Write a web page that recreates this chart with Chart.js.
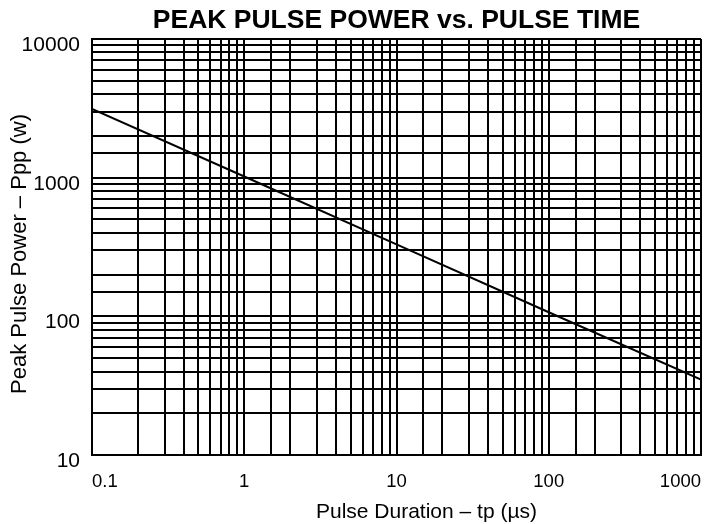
<!DOCTYPE html>
<html>
<head>
<meta charset="utf-8">
<script src="https://cdn.jsdelivr.net/npm/chart.js@4/dist/chart.umd.min.js"></script>
<style>
  html, body { margin: 0; padding: 0; background: #ffffff; }
  canvas { display: block; }
</style>
</head>
<body>
<canvas id="chart" width="719" height="524"></canvas>
<script>
// values
const pulseTimes = [0.1, 1, 10, 100, 1000]
const peakPower = [3130, 1020, 330, 107, 35]

const xTickLabels = ['0.1', '1', '10', '100', '1000']
const yTickLabels = ['10', '100', '1000', '10000']

const chartTitle = 'PEAK PULSE POWER vs. PULSE TIME'
const xTitle = 'Pulse Duration – tp (µs)'
const yTitle = 'Peak Pulse Power – Ppp (w)'

const fontFamily = 'Liberation Sans, Arial, sans-serif'
Chart.defaults.font.family = fontFamily
Chart.defaults.color = '#000000'

const isDecade = v => Math.abs(Math.log10(v) - Math.round(Math.log10(v))) < 1e-9
const findLabel = (labels, value) => labels.find(l => Math.abs(Number(l) - value) < value * 1e-6)

const gridBlack = {
  color: '#000000',
  lineWidth: 2,
  drawTicks: false
}

// axis titles sit a bit off-centre in the datasheet, so draw them by hand
const axisTitles = {
  id: 'axisTitles',
  afterDraw(chart) {
    const { ctx, chartArea } = chart
    ctx.save()
    ctx.fillStyle = '#000000'
    ctx.textAlign = 'center'
    ctx.textBaseline = 'middle'

    ctx.font = `21px ${fontFamily}`
    ctx.fillText(xTitle, (chartArea.left + chartArea.right) / 2 + 30, chartArea.bottom + 57)

    ctx.font = `22px ${fontFamily}`
    ctx.translate(19.5, (chartArea.top + chartArea.bottom) / 2 + 7)
    ctx.rotate(-Math.PI / 2)
    ctx.fillText(yTitle, 0, 0)
    ctx.restore()
  }
}

const config = {
  type: 'line',
  data: {
    datasets: [{
      data: pulseTimes.map((t, i) => ({ x: t, y: peakPower[i] })),
      borderColor: '#000000',
      borderWidth: 2,
      pointRadius: 0,
      tension: 0,
      fill: false
    }]
  },
  options: {
    responsive: false,
    animation: false,
    layout: {
      padding: { left: 0, right: 18, top: 0, bottom: 0 }
    },
    plugins: {
      legend: { display: false },
      tooltip: { enabled: false },
      title: {
        display: true,
        fullSize: false,
        text: chartTitle,
        font: { size: 26.5, weight: 'bold' },
        padding: { top: 5, bottom: 2.2 }
      }
    },
    scales: {
      x: {
        type: 'logarithmic',
        min: 0.1,
        max: 1000,
        grid: gridBlack,
        border: { display: true, color: '#000000', width: 2 },
        ticks: {
          autoSkip: false,
          maxRotation: 0,
          align: 'inner',
          padding: 16,
          font: { size: 18.5 },
          callback: function (value) {
            if (!isDecade(value)) return ''
            return findLabel(xTickLabels, value) || ''
          }
        },
        afterFit: function (scale) {
          scale.height = 69
          scale.paddingLeft = 0
          scale.paddingRight = 0
        }
      },
      y: {
        type: 'logarithmic',
        min: 10,
        max: 10000,
        grid: gridBlack,
        border: { display: true, color: '#000000', width: 2 },
        ticks: {
          autoSkip: false,
          padding: 12,
          font: { size: 21, lineHeight: 0.6 },
          callback: function (value) {
            if (!isDecade(value)) return ''
            const s = findLabel(yTickLabels, value)
            // empty first line pushes the number a few px below its grid line, like the original
            return s ? ['', s] : ''
          }
        },
        afterFit: function (scale) {
          scale.width = 92
        }
      }
    }
  },
  plugins: [axisTitles]
}

try {
  new Chart(document.getElementById('chart'), config)
} catch (error) {
  console.error(`Chart render failed: ${error}`)
}
</script>
</body>
</html>
